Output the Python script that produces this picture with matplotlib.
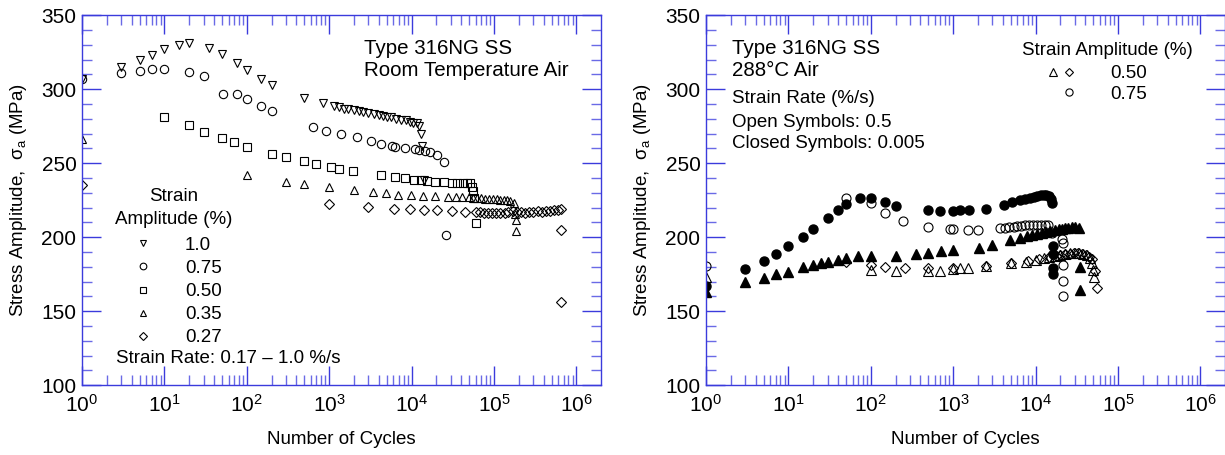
import numpy as np
import matplotlib
matplotlib.use('Agg')
import matplotlib.pyplot as plt
from matplotlib.ticker import FixedLocator, MultipleLocator, FuncFormatter, NullFormatter
from matplotlib.legend_handler import HandlerTuple
from matplotlib.lines import Line2D

plt.rcParams['font.family'] = ['Liberation Sans', 'DejaVu Sans']
plt.rcParams['mathtext.fontset'] = 'custom'
plt.rcParams['mathtext.rm'] = 'Liberation Sans'
plt.rcParams['mathtext.it'] = 'Liberation Sans:italic'
plt.rcParams['mathtext.bf'] = 'Liberation Sans:bold'

BLUE = '#3b3bdc'
BLUE_MINOR = '#6a6ae6'

# ---- room temperature air (left) ----
n_100 = [1, 3, 5, 7, 10, 15, 20, 35, 50, 76, 100, 150, 200, 500, 840, 1150, 1300, 1500,
         1700, 2000, 2300, 2600, 3000, 3500, 4000, 4500, 5000, 5700, 6500, 7500, 8500,
         9500, 10500, 11500, 12200, 13000, 13500, 14000]
s_100 = [307, 315, 320, 323, 327, 330, 331, 328, 324, 318, 313, 307, 303, 294, 290.5, 288.5,
         288, 287, 286.5, 286, 285, 284.5, 284, 283, 282.5, 282, 281.5, 281, 280, 279.5, 279,
         278, 277.5, 277, 275, 270, 262, 239]

n_075 = [1, 3, 5, 7, 10, 20, 30, 51, 76, 100, 150, 200, 630, 920, 1400, 2200, 3200, 4200,
         5800, 6300, 8300, 11100, 12300, 14700, 16900, 20400, 24600, 26500]
s_075 = [307, 311, 312.6, 313.5, 314, 312, 309, 296.5, 297, 293.5, 288.5, 285.5, 274.5, 272,
         270, 267.5, 265, 263, 261.5, 261, 260, 259.5, 259, 258.3, 257.4, 255.6, 251, 201.5]

n_050 = [10, 20, 30, 50, 70, 100, 200, 300, 500, 690, 1060, 1300, 1950, 4300, 6300, 8300,
         10600, 13000, 15500, 19400, 24600, 31000, 35700, 42000, 47000, 51800, 54000, 56000,
         58000, 61300]
s_050 = [281, 275.7, 271.4, 267, 264.2, 261.2, 256.3, 254.3, 251.3, 249.3, 247.3, 246.1,
         244.8, 242.1, 240.7, 240, 238.7, 238.5, 238, 237.6, 237.6, 237, 237, 236.8, 236.6,
         236.5, 234, 231, 226.5, 209.5]

n_035 = [1, 100, 300, 500, 1000, 2000, 3400, 4950, 6850, 9950, 13800, 19400, 28000, 34400,
         41000, 49400, 55000, 62000, 70000, 78000, 87000, 97000, 108000, 120000, 133000,
         146000, 158000, 174000, 182000, 183000, 185000]
s_035 = [266.6, 242, 237.6, 236, 233.7, 232, 230.4, 229.7, 228.6, 228.6, 228, 228, 227.4,
         227.4, 227.4, 227.4, 226.8, 226.5, 226.3, 226, 226, 225.8, 225.6, 225.4, 225.2, 225,
         224.6, 223, 216, 211.7, 204]

n_027 = [1, 1000, 2960, 6100, 9660, 14000, 20400, 31000, 45000, 60700, 68000, 76000, 85000,
         95000, 107000, 120000, 135000, 150000, 170000, 190000, 215000, 240000, 270000,
         300000, 340000, 380000, 430000, 480000, 540000, 600000, 643000, 660000, 660000]
s_027 = [235, 222.3, 220.7, 219.4, 218.9, 218.6, 218.4, 217.9, 217.4, 216.9, 216.8, 216.7,
         216.6, 216.5, 216.5, 216.4, 216.6, 217, 217.5, 217.3, 217, 216.7, 216.9, 217.3,
         217.6, 217.2, 217.5, 218, 218.4, 218.6, 219, 205, 156]

# ---- 288C air (right) ----
n_c_slow = [1, 3, 5, 7, 10, 15, 20, 30, 40, 50, 75, 100, 150, 200, 500, 700, 1000, 1220,
            1540, 2530, 4090, 5150, 6530, 7500, 8500, 9500, 10500, 11500, 12500, 13500,
            14500, 15200, 15800, 16400, 16400, 16400, 16400]
s_c_slow = [167, 178.4, 184.2, 188.5, 194.1, 200.4, 205.4, 213.2, 218.4, 222.3, 226.8,
            226.8, 223.6, 221.3, 218.4, 218, 218, 218.4, 218.4, 219.1, 221.5, 223.6, 225.2,
            226, 226.8, 227.5, 228, 228.4, 228.6, 228.6, 228, 226, 223, 194, 189, 179, 175.5]

n_c_fast = [1, 50, 100, 150, 248, 500, 920, 1000, 1510, 2000, 3700, 4200, 4800, 5400, 6000,
            6700, 7500, 8400, 9400, 10500, 11700, 13000, 14000, 15800, 21000, 21500, 21800,
            21800, 21800]
s_c_fast = [180.6, 226.8, 223.4, 216.6, 211.2, 207.2, 205.4, 205.4, 205, 205, 206.1, 206.4,
            206.8, 207.2, 207.5, 207.8, 208, 208.3, 208.5, 208.6, 208.6, 208.5, 208, 202.7,
            199, 196, 181, 170.5, 160.5]

n_t_slow = [1, 3, 5, 7, 10, 15, 20, 25, 30, 40, 50, 70, 100, 200, 350, 500, 710, 1000, 2040,
            2960, 4950, 6400, 7900, 9000, 10500, 12000, 13500, 15000, 17000, 19000, 21000,
            23000, 25000, 27500, 30000, 33400, 35000, 35000]
s_t_slow = [163.2, 169.6, 172.7, 175, 176.8, 179.7, 181.3, 182.4, 183.1, 184.9, 186.2, 187.6,
            187.6, 187.6, 188.5, 189.6, 190.5, 191.7, 193, 194.8, 198.2, 199.3, 200.9, 201.8,
            202.5, 203.2, 203.8, 204.3, 204.8, 205.3, 205.8, 206.2, 206.5, 206.8, 207, 206,
            180, 164.4]

n_t_fast = [1, 100, 200, 500, 700, 1000, 1200, 1500, 2500, 5000, 7600, 10000, 12500, 14500,
            17000, 20000, 23000, 26000, 30000, 34000, 38000, 42000, 46000, 48500, 50000, 51000]
s_t_fast = [173.4, 178, 177.5, 177.5, 177.5, 178.8, 179, 179, 180.6, 182.4, 183.5, 184.7,
            185.8, 186.9, 187.6, 188.2, 188.8, 189.2, 189.5, 189.3, 188.8, 188, 186, 182.4,
            178, 173.4]

n_d_fast = [50, 100, 150, 257, 500, 1000, 2500, 5000, 8000, 11000, 14500, 17500, 20000,
            23000, 26000, 29000, 33000, 37000, 41000, 45000, 49000, 52000, 55000]
s_d_fast = [183, 181.5, 179.7, 179, 179.3, 179, 180.6, 182.4, 183.8, 185.3, 186.9, 187.5,
            188, 188.5, 189, 189.3, 189.2, 189, 188.3, 187, 185, 177, 165.5]

decades = [1e0, 1e1, 1e2, 1e3, 1e4, 1e5, 1e6]
minor_x = [m * d for d in decades for m in range(2, 10) if m * d < 1.97e6]

fig = plt.figure(figsize=(12.25, 4.55), dpi=100)
ax1 = fig.add_axes([82/1225, 69.7/455, 518.6/1225, 370/455])
ax2 = fig.add_axes([706/1225, 69.7/455, 518.6/1225, 370/455])


def style(ax):
    ax.set_xscale('log')
    ax.set_xlim(1, 1.97e6)
    ax.set_ylim(100, 350)
    ax.xaxis.set_major_locator(FixedLocator(decades))
    ax.xaxis.set_minor_locator(FixedLocator(minor_x))
    ax.xaxis.set_major_formatter(FuncFormatter(
        lambda v, p: r'$\mathregular{10^{%d}}$' % round(np.log10(v))))
    ax.xaxis.set_minor_formatter(NullFormatter())
    ax.yaxis.set_major_locator(MultipleLocator(50))
    ax.yaxis.set_minor_locator(MultipleLocator(10))
    ax.tick_params(which='both', direction='in', top=True, right=True, labelcolor='black')
    ax.tick_params(which='major', length=14, width=1, labelsize=15, color=BLUE)
    ax.tick_params(which='minor', length=7, width=1, color=BLUE_MINOR)
    ax.tick_params(axis='x', which='major', pad=6)
    ax.tick_params(axis='y', which='major', pad=4)
    for s in ax.spines.values():
        s.set_color(BLUE)
        s.set_linewidth(1)
    ax.set_xlabel('Number of Cycles', fontsize=13.5, labelpad=11)
    ax.set_ylabel(r'Stress Amplitude,  $\mathregular{\sigma_a}$ (MPa)', fontsize=13.5, labelpad=9)


style(ax1)
style(ax2)

op = dict(linestyle='none', color='black', mfc='none', mew=0.8)
h1, = ax1.plot(n_100, s_100, marker='v', ms=6, **op)
h2, = ax1.plot(n_075, s_075, marker='o', ms=6, **op)
h3, = ax1.plot(n_050, s_050, marker='s', ms=6, **op)
h4, = ax1.plot(n_035, s_035, marker='^', ms=6, **op)
h5, = ax1.plot(n_027, s_027, marker='D', ms=5, **op)

ax1.text(0.5444, 0.8946, 'Type 316NG SS', transform=ax1.transAxes, fontsize=14.8, va='baseline')
ax1.text(0.5444, 0.8359, 'Room Temperature Air', transform=ax1.transAxes, fontsize=14.8, va='baseline')
ax1.text(0.177, 0.4989, 'Strain', transform=ax1.transAxes, fontsize=13.5, ha='center', va='baseline')
ax1.text(0.177, 0.4351, 'Amplitude (%)', transform=ax1.transAxes, fontsize=13.5, ha='center', va='baseline')
ax1.text(0.0656, 0.0595, 'Strain Rate: 0.17 \u2013 1.0 %/s', transform=ax1.transAxes, fontsize=13.5, va='baseline')
ax1.legend([h1, h2, h3, h4, h5], ['1.0', '0.75', '0.50', '0.35', '0.27'],
           loc='upper left', bbox_to_anchor=(0.0877, 0.4016), frameon=False, fontsize=13.5,
           borderpad=0, borderaxespad=0, handlelength=1.69, handletextpad=1.38,
           labelspacing=0.32, markerscale=0.8, numpoints=1)

ax2.plot(n_c_slow, s_c_slow, linestyle='none', marker='o', ms=6.5, color='black')
g2, = ax2.plot(n_c_fast, s_c_fast, marker='o', ms=6.5, **op)
ax2.plot(n_t_slow, s_t_slow, linestyle='none', marker='^', ms=6.5, color='black')
g4, = ax2.plot(n_t_fast, s_t_fast, marker='^', ms=6.5, **op)
g5, = ax2.plot(n_d_fast, s_d_fast, marker='D', ms=5, **op)

ax2.text(0.0496, 0.8946, 'Type 316NG SS', transform=ax2.transAxes, fontsize=14.8, va='baseline')
ax2.text(0.0496, 0.8359, '288\u00b0C Air', transform=ax2.transAxes, fontsize=14.8, va='baseline')
ax2.text(0.0496, 0.7638, 'Strain Rate (%/s)', transform=ax2.transAxes, fontsize=13.5, va='baseline')
ax2.text(0.0496, 0.6989, 'Open Symbols: 0.5', transform=ax2.transAxes, fontsize=13.5, va='baseline')
ax2.text(0.0496, 0.6422, 'Closed Symbols: 0.005', transform=ax2.transAxes, fontsize=13.5, va='baseline')
ax2.text(0.610, 0.8927, 'Strain Amplitude (%)', transform=ax2.transAxes, fontsize=13.5, va='baseline')
blank = Line2D([], [], linestyle='none', marker=None)
ax2.legend([(g4, g5), (blank, g2)], ['0.50', '0.75'],
           handler_map={tuple: HandlerTuple(ndivide=None, pad=0)},
           loc='upper left', bbox_to_anchor=(0.6525, 0.865), frameon=False, fontsize=13.5,
           borderpad=0, borderaxespad=0, handlelength=1.77, handletextpad=1.73,
           labelspacing=0.18, markerscale=0.8, numpoints=1)

fig.savefig('out.png', dpi=100)
